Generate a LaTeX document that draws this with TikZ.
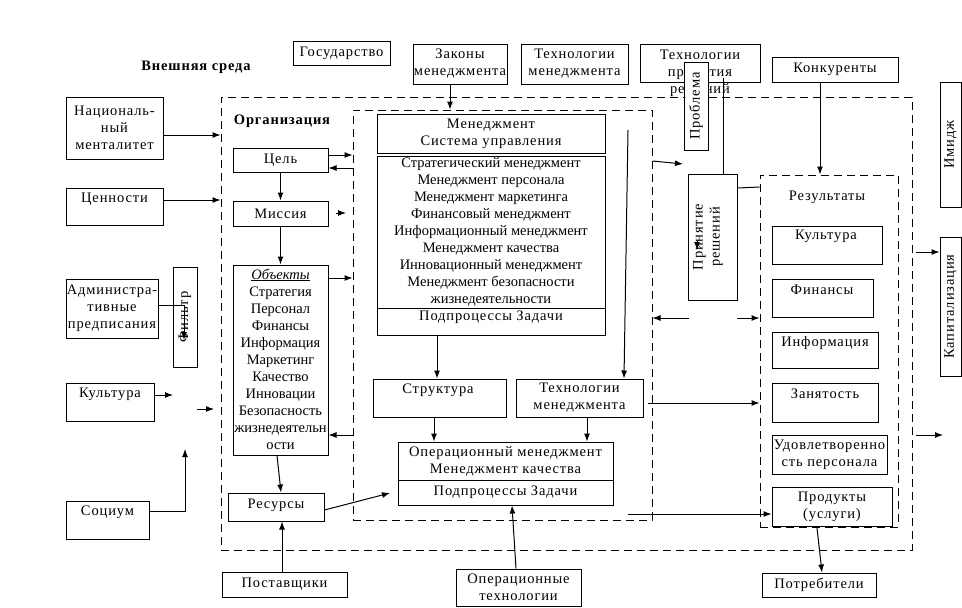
\documentclass[tikz,border=0pt]{standalone}
\usepackage{fontspec}
\setmainfont{Liberation Serif}
\usetikzlibrary{arrows.meta,calc}
\newcommand\fsn{\fontsize{14.5}{17}\selectfont}
\newcommand\fsz{\fontsize{14.5}{17}\selectfont\addfontfeature{LetterSpace=6}}
\tikzset{
 box/.style={draw, line width=1pt, inner sep=0pt, align=center, font=\fsz},
 dbox/.style={draw, line width=1pt, dash pattern=on 8pt off 5pt, inner sep=0pt},
 txt/.style={inner sep=0pt, align=center, font=\fsz},
 ntxt/.style={inner sep=0pt, align=center, font=\fsn},
 arr/.style={line width=1pt, -{Latex[length=8pt,width=6pt]}},
 ln/.style={line width=1pt},
}
\newcommand\bx[7][]{\node[box,minimum width={#5-#3},minimum height={#6-#4},#1] (#2) at ({(#3+#5)/2},{(#4+#6)/2}) {#7};}
\newcommand\dbx[5]{\node[dbox,minimum width={#4-#2},minimum height={#5-#3}] (#1) at ({(#2+#4)/2},{(#3+#5)/2}) {};}
\begin{document}
\begin{tikzpicture}[x=1pt,y=-1pt]
\useasboundingbox (0,0) rectangle (962,608);
\fill[white] (0,0) rectangle (962,608);
% dashed containers
\dbx{org}{221}{97}{912}{550}
\dbx{mg}{353}{110}{652}{520}
\dbx{res}{760}{175}{898}{527}
\node[txt,font=\fsz\bfseries] (text) at (196,67) {Внешняя среда};
\node[txt,font=\fsz\bfseries] (torg) at (282,121) {Организация};
\node[txt] (tres) at (827,197) {Результаты};
% top row
\bx{gos}{293}{41}{390}{65}{Государство}
\bx{zak}{413}{44}{507}{84}{Законы\\менеджмента}
\bx{tm1}{521}{44}{628}{84}{Технологии\\менеджмента}
\bx{tpr}{640}{44}{760}{82}{}
\node[txt] (tprt) at (700,73) {Технологии\\принятия\\решений};
\bx[fill=white]{prob}{684}{62}{708}{150}{}
\node[txt,rotate=90] (probt) at (696,106) {Проблема};
\bx{kon}{772}{57}{898}{82}{Конкуренты}
\bx{img}{940}{82}{961}{207}{}
\node[txt,rotate=90] (imgt) at (950.5,144.5) {Имидж};
\bx{kap}{940}{237}{961}{376}{}
\node[txt,rotate=90] (kapt) at (950.5,306.5) {Капитализация};
% left column
\bx{nat}{66}{97}{163}{159}{Националь-\\ный\\менталитет}
\bx{cen}{66}{188}{163}{225}{}
\node[txt] (cent) at (114.5,199) {Ценности};
\bx{adm}{66}{279}{158}{338}{Администра-\\тивные\\предписания}
\bx{fil}{173}{267}{197}{367}{}
\node[txt,rotate=90] (filt) at (185,317) {Фильтр};
\bx{kul}{66}{383}{154}{421}{}
\node[txt] (kult) at (110,394) {Культура};
\bx{soc}{66}{501}{149}{539}{}
\node[txt] (soct) at (107.5,512) {Социум};
% organisation column
\bx{cel}{233}{148}{328}{172}{Цель}
\bx{mis}{233}{201}{328}{226}{Миссия}
\bx{obj}{233}{265}{328}{455}{}
\node[ntxt] (objt) at (280.5,359) {\underline{\textit{Объекты}}\\Стратегия\\Персонал\\Финансы\\Информация\\Маркетинг\\Качество\\Инновации\\Безопасность\\жизнедеятельн\\ости};
\bx{resu}{228}{493}{324}{521}{}
\node[txt] (resut) at (276,505) {Ресурсы};
\bx{post}{222}{572}{347}{597}{Поставщики}
% management
\bx{msu}{377}{114}{605}{153}{Менеджмент\\Система управления}
\bx[font=\fsn]{big1}{377}{156}{605}{308}{Стратегический менеджмент\\Менеджмент персонала\\Менеджмент маркетинга\\Финансовый менеджмент\\Информационный менеджмент\\Менеджмент качества\\Инновационный менеджмент\\Менеджмент безопасности\\жизнедеятельности}
\bx{big2}{377}{308}{605}{335}{}
\node[txt] (big2t) at (491,317) {Подпроцессы Задачи};
\bx{str}{373}{379}{506}{417}{}
\node[txt] (strt) at (438,390) {Структура};
\bx{tm2}{516}{379}{643}{417}{Технологии\\менеджмента}
\bx{op1}{398}{442}{613}{480}{Операционный менеджмент\\Менеджмент качества}
\bx{op2}{398}{480}{613}{505}{Подпроцессы Задачи}
\bx{opt}{456}{569}{581}{606}{Операционные\\технологии}
% decision
\bx{prin}{688}{174}{737}{300}{}
\node[txt,rotate=90] (print) at (708,237) {Принятие\\решений};
% results
\bx{rk}{772}{226}{882}{264}{}
\node[txt] (rkt) at (826,236) {Культура};
\bx{rf}{772}{279}{873}{317}{}
\node[txt] (rft) at (822,290) {Финансы};
\bx{ri}{772}{332}{878}{368}{}
\node[txt] (rit) at (825,343) {Информация};
\bx{rz}{772}{383}{878}{422}{}
\node[txt] (rzt) at (825,394) {Занятость};
\bx{ru}{772}{435}{887}{474}{Удовлетворенно\\сть персонала}
\bx{rp}{772}{487}{892}{526}{Продукты\\(услуги)}
\bx{potr}{762}{573}{876}{597}{Потребители}
% free coordinates
\coordinate (kulA) at (173,395);
\coordinate (fa1) at (197,409); \coordinate (fa2) at (214,409);
\coordinate (sA) at (185,449);
\coordinate (filA) at (184,340);
\coordinate (misA) at (336,213); \coordinate (misB) at (346,213);
\coordinate (opA) at (390,493);
\coordinate (vl) at (628,130);
\coordinate (tmA) at (648,403);
\coordinate (bA) at (628,514);
\coordinate (mgA) at (683,164);
\coordinate (dA) at (689,318);
\coordinate (dB) at (737,318);
\coordinate (tprA) at (723,78);
\coordinate (oA) at (916,252);
\coordinate (oB) at (916,435); \coordinate (oC) at (943,435);
\coordinate (rpA) at (817,528);
\coordinate (pA) at (697,241); \coordinate (pB) at (697,250);
% connectors
\draw[arr] (nat.east |- 0,135) -- (org.west |- 0,135);
\draw[arr] (cen.east |- 0,200) -- (org.west |- 0,200);
\draw[arr] (adm.east |- 0,305) -| (filA);
\draw[arr] (kul.east |- 0,395) -- (kulA);
\draw[arr] (fa1) -- (fa2);
\draw[arr] (soc.east |- 0,511) -| (sA);
\draw[arr] (cel.south) -- (mis.north);
\draw[arr] (mis.south) -- (obj.north);
\draw[arr] (cel.east |- 0,155) -- (mg.west |- 0,155);
\draw[arr] (mg.west |- 0,168) -- (cel.east |- 0,168);
\draw[arr] (misA) -- (misB);
\draw[arr] (obj.east |- 0,278) -- (mg.west |- 0,278);
\draw[arr] (mg.west |- 0,435) -- (obj.east |- 0,435);
\draw[arr] (obj.south -| 277,0) -- (resu.north -| 281,0);
\draw[arr] (post.north -| 282,0) -- (resu.south -| 282,0);
\draw[arr] (resu.east |- 0,510) -- (opA);
\draw[arr] (zak.south -| 450,0) -- (mg.north -| 450,0);
\draw[arr] (vl) -- (tm2.north -| 624,0);
\draw[arr] (big2.south -| 437,0) -- (str.north -| 437,0);
\draw[arr] (str.south -| 434,0) -- (op1.north -| 434,0);
\draw[arr] (tm2.south -| 587,0) -- (op1.north -| 587,0);
\draw[arr] (opt.north -| 516,0) -- (op2.south -| 512,0);
\draw[arr] (tmA) -- (res.west |- 0,403);
\draw[arr] (bA) -- (rp.west |- 0,514);
\draw[arr] (mg.east |- 0,161) -- (mgA);
\draw[arr] (dA) -- (mg.east |- 0,318);
\draw[arr] (dB) -- (res.west |- 0,318);
\draw[ln] (tprA) -- (prin.north -| 723,0);
\draw[arr] (kon.south -| 820,0) -- (res.north -| 820,0);
\draw[ln] (prin.east |- 0,188) -- (res.west |- 0,187);
\draw[arr] (oA) -- (kap.west |- 0,252);
\draw[arr] (oB) -- (oC);
\draw[arr] (rpA) -- (potr.north -| 822,0);
\draw[arr] (pA) -- (pB);
\end{tikzpicture}
\end{document}
